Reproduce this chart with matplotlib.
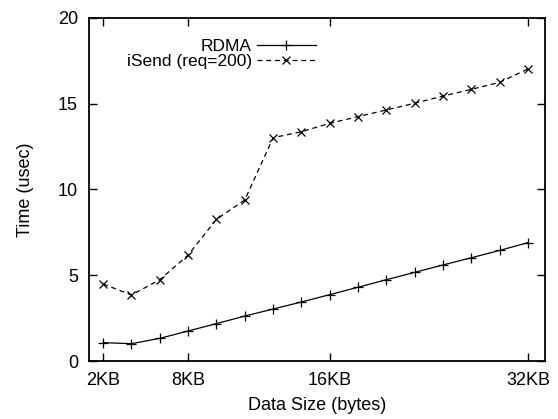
import matplotlib
matplotlib.use("Agg")
import matplotlib.pyplot as plt

plt.rcParams['font.family'] = ['Liberation Sans', 'DejaVu Sans']

tick_labels = ["2KB", "8KB", "16KB", "32KB"]
tick_index = [0, 3, 8, 15]
n_points = 16
rdma = [1.07, 1.01, 1.32, 1.75, 2.18, 2.62, 3.03, 3.44, 3.87, 4.30, 4.74,
        5.17, 5.60, 6.02, 6.45, 6.90]
isend = [4.49, 3.85, 4.74, 6.18, 8.26, 9.39, 13.02, 13.37, 13.86, 14.25,
         14.64, 15.03, 15.45, 15.84, 16.25, 17.03]

x = list(range(n_points))

fig = plt.figure(figsize=(5.58, 4.19), dpi=100)
ax = fig.add_axes([89/558, 1-361/419, (545-89)/558, (361-18)/419])

ax.plot(x, rdma, color='black', linewidth=0.9, marker='+', markersize=6.5,
        markeredgewidth=0.9, label='RDMA')
ax.plot(x, isend, color='black', linewidth=0.9, linestyle=(0, (4, 3)),
        marker='x', markersize=5.5, markeredgewidth=0.9, label='iSend (req=200)')

ax.set_xlim(-0.5, 15.6)
ax.set_ylim(0, 20)
ax.set_xticks(tick_index)
ax.set_xticklabels(tick_labels)
ax.set_yticks([0, 5, 10, 15, 20])
ax.tick_params(direction='in', length=6, width=1, top=True, right=True,
               labelsize=13)
ax.tick_params(axis='x', pad=8)
ax.tick_params(axis='y', pad=8)
for s in ax.spines.values():
    s.set_linewidth(1.3)

ax.set_xlabel('Data Size (bytes)', fontsize=13, labelpad=6)
ax.set_ylabel('Time (usec)', fontsize=13, labelpad=17)

leg = ax.legend(loc='upper right', bbox_to_anchor=(316/558, 1-39/419),
                bbox_transform=fig.transFigure, frameon=False,
                markerfirst=False, handlelength=3.4, handletextpad=0.3,
                fontsize=12.5, borderaxespad=0, borderpad=0,
                labelspacing=0.0)

fig.savefig('out.png', dpi=100)
